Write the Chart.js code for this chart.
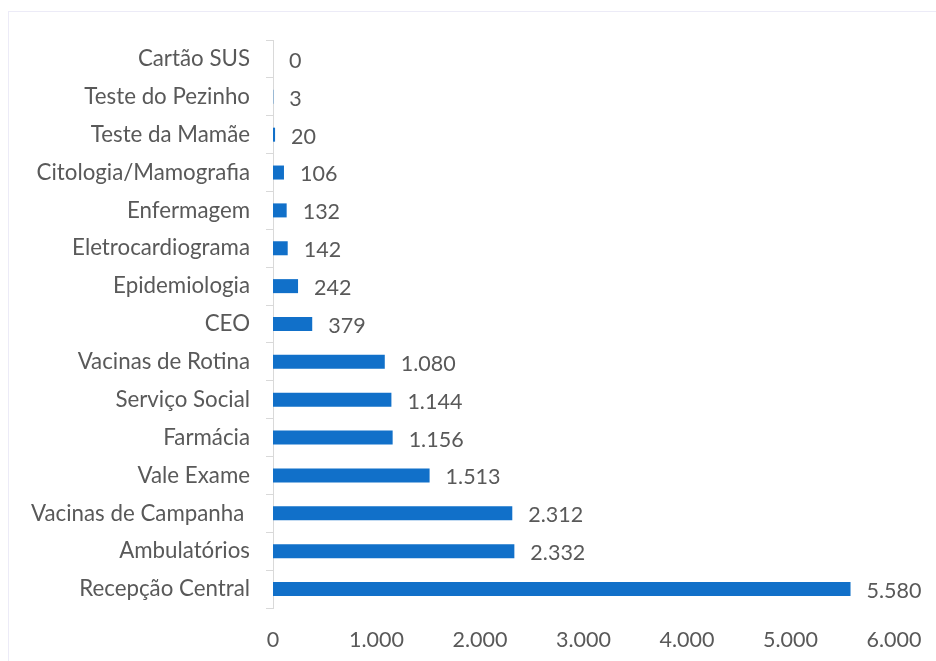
<!DOCTYPE html>
<html>
<head>
<meta charset="utf-8">
<script src="https://cdn.jsdelivr.net/npm/chart.js@4/dist/chart.umd.min.js"></script>
<style>
  html, body { margin: 0; padding: 0; background: #fff; }
  #wrap { position: relative; width: 936px; height: 661px; }
  #frame { position: absolute; left: 8px; top: 11px; right: -2px; bottom: -2px; border: 1px solid #ecebf7; }
  canvas { position: absolute; left: 0; top: 0; }
</style>
</head>
<body>
<div id="wrap">
  <div id="frame"></div>
  <canvas id="chart" width="936" height="661"></canvas>
</div>
<script>
// ---------- Data ----------
const categories = [
    'Cartão SUS', 'Teste do Pezinho', 'Teste da Mamãe', 'Citologia/Mamografia',
    'Enfermagem', 'Eletrocardiograma', 'Epidemiologia', 'CEO', 'Vacinas de Rotina',
    'Serviço Social', 'Farmácia', 'Vale Exame', 'Vacinas de Campanha ',
    'Ambulatórios', 'Recepção Central'
];
const atendimentos = [0, 3, 20, 106, 132, 142, 242, 379, 1080, 1144, 1156, 1513, 2312, 2332, 5580];
const xTicks = [0, 1000, 2000, 3000, 4000, 5000, 6000];

const textColor = '#595959';
const fontFamily = "Lato, 'Open Sans', sans-serif";

// pt-BR thousands separator
function fmt(v) {
    return String(v).replace(/\B(?=(\d{3})+(?!\d))/g, '.');
}

// --- value labels at the end of each bar ---
const valueLabels = {
    id: 'valueLabels',
    afterDatasetsDraw(chart) {
        const ctx = chart.ctx;
        const meta = chart.getDatasetMeta(0);
        ctx.save();
        ctx.fillStyle = textColor;
        ctx.font = '21.5px ' + fontFamily;
        ctx.textAlign = 'left';
        ctx.textBaseline = 'middle';
        meta.data.forEach((bar, i) => {
            ctx.fillText(fmt(atendimentos[i]), bar.x + 16, bar.y + 2);
        });
        ctx.restore();
    }
};

const ctx = document.getElementById('chart').getContext('2d');
new Chart(ctx, {
    type: 'bar',
    data: {
        labels: categories,
        datasets: [{
            data: atendimentos,
            backgroundColor: '#1170c9',
            borderWidth: 0,
            categoryPercentage: 1,
            barPercentage: 0.37
        }]
    },
    options: {
        indexAxis: 'y',
        responsive: false,
        animation: false,
        layout: { padding: { top: 40, right: 42, bottom: 0, left: 0 } },
        plugins: {
            legend: { display: false },
            tooltip: { enabled: false }
        },
        scales: {
            x: {
                min: 0,
                max: 6000,
                afterBuildTicks: axis => { axis.ticks = xTicks.map(v => ({ value: v })); },
                afterFit: axis => { axis.height = 53; },
                grid: { display: false },
                border: { display: false },
                ticks: {
                    color: textColor,
                    font: { size: 21.5, family: fontFamily },
                    padding: 11,
                    maxRotation: 0,
                    callback: v => fmt(v)
                }
            },
            y: {
                afterFit: axis => { axis.width = 273; },
                grid: {
                    display: true,
                    drawOnChartArea: false,
                    tickLength: 7,
                    color: '#d9d9d9',
                    offset: true
                },
                border: { display: true, color: '#d9d9d9', width: 1 },
                ticks: {
                    color: textColor,
                    font: { size: 22.3, family: fontFamily },
                    padding: 16,
                    autoSkip: false
                }
            }
        }
    },
    plugins: [valueLabels]
});
</script>
</body>
</html>
